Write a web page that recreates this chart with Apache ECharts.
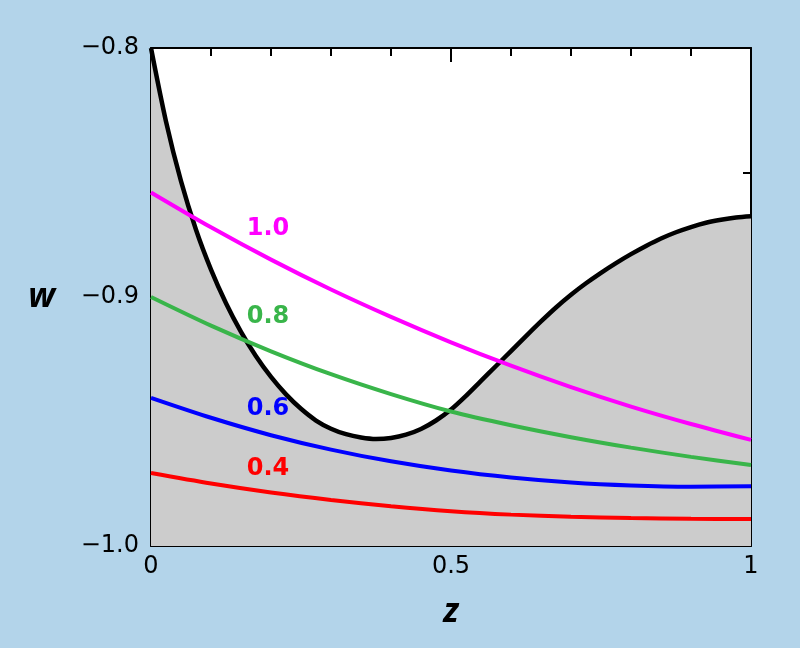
<!DOCTYPE html>
<html><head><meta charset="utf-8">
<script src="https://cdn.jsdelivr.net/npm/echarts@6/dist/echarts.min.js"></script>
<style>html,body{margin:0;padding:0;background:#b3d4ea}#c{width:800px;height:648px}</style>
</head><body><div id="c"></div>
<script>
// ---- data ----
const zBlack = [0, 0.025, 0.05, 0.075, 0.1, 0.125, 0.15, 0.175, 0.2, 0.225, 0.25, 0.275, 0.3, 0.325, 0.35, 0.375, 0.4, 0.425, 0.45, 0.475, 0.5,
  0.525, 0.55, 0.575, 0.6, 0.625, 0.65, 0.675, 0.7, 0.725, 0.75, 0.775, 0.8, 0.825, 0.85, 0.875, 0.9, 0.925, 0.95, 0.975, 1.0];
const wBlack = [-0.8000, -0.8295, -0.8535, -0.8730, -0.8890, -0.9025, -0.9140, -0.9238, -0.9321, -0.9391, -0.9449, -0.9496, -0.9529, -0.9551, -0.9564, -0.9570, -0.9566, -0.9553, -0.9530, -0.9496, -0.9452,
  -0.9397, -0.9337, -0.9277, -0.9217, -0.9157, -0.9098, -0.9042, -0.8991, -0.8945, -0.8903, -0.8864, -0.8828, -0.8795, -0.8765, -0.8740, -0.8719, -0.8702, -0.8690, -0.8681, -0.8676];
const zGrid = [0, 0.1, 0.2, 0.3, 0.4, 0.5, 0.6, 0.7, 0.8, 0.9, 1.0];
const w10 = [-0.858, -0.872, -0.885, -0.897, -0.908, -0.9182, -0.9276, -0.9362, -0.944, -0.951, -0.9574];
const w08 = [-0.900, -0.9115, -0.9218, -0.9310, -0.9390, -0.9460, -0.9515, -0.9563, -0.9605, -0.9642, -0.9675];
const w06 = [-0.9405, -0.9485, -0.9555, -0.9613, -0.966, -0.9697, -0.9725, -0.9745, -0.9757, -0.9762, -0.976];
const w04 = [-0.9707, -0.9749, -0.9785, -0.9815, -0.984, -0.986, -0.9874, -0.9883, -0.9888, -0.9891, -0.9892];
const seriesNames = ['1.0', '0.8', '0.6', '0.4'];
const labelZ = [0.195, 0.195, 0.195, 0.195];
const labelW = [-0.8725, -0.908, -0.9447, -0.969];
const xTicks = [0, 0.5, 1];
const yTicks = [-1.0, -0.9, -0.8];

const colors = ['#ff00ff', '#39b54a', '#0000ff', '#ff0000'];
const values = [w10, w08, w06, w04];
const FONT = 'DejaVu Sans';

const chart = echarts.init(document.getElementById('c'), null, {renderer: 'canvas'});
const tickCommon = {show: true, inside: true, length: 14, lineStyle: {color: '#000', width: 2}};
const minorCommon = {show: true, length: 8, lineStyle: {color: '#000', width: 2}};
const lineCommon = {show: true, onZero: false, lineStyle: {color: '#000', width: 2}};
const fmtY = v => (v < 0 ? '\u2212' : '') + Math.abs(v).toFixed(1);
const fmtX = v => String(+v.toFixed(2));

const series = [{
  type: 'line', data: zBlack.map((z, i) => [z, wBlack[i]]),
  smooth: 0.3, symbol: 'none', z: 3,
  lineStyle: {color: '#000', width: 4.5},
  areaStyle: {color: '#cccccc', opacity: 1, origin: 'start'}
}];
values.forEach((arr, k) => {
  series.push({
    type: 'line', name: seriesNames[k], data: zGrid.map((z, i) => [z, arr[i]]),
    smooth: 0.3, symbol: 'none', z: 4,
    lineStyle: {color: colors[k], width: 4},
    markPoint: {
      symbol: 'circle', symbolSize: 0,
      data: [{coord: [labelZ[k], labelW[k]], value: seriesNames[k]}],
      label: {show: true, position: 'inside', formatter: seriesNames[k], color: colors[k],
        fontFamily: FONT, fontWeight: 'bold', fontSize: 24}
    }
  });
});

chart.setOption({
  backgroundColor: '#b3d4ea',
  animation: false,
  grid: {left: 151, right: 49, top: 48, bottom: 102, show: true, backgroundColor: '#ffffff', borderWidth: 0},
  xAxis: [{
    type: 'value', min: 0, max: 1, interval: 0.5, position: 'bottom',
    axisLine: lineCommon, axisTick: tickCommon, minorTick: Object.assign({splitNumber: 5}, minorCommon),
    splitLine: {show: false},
    axisLabel: {formatter: v => xTicks.includes(v) ? fmtX(v) : '', color: '#000', fontFamily: FONT, fontSize: 24, margin: 9},
    name: 'z', nameLocation: 'middle', nameGap: 49,
    nameTextStyle: {fontFamily: 'Open Sans', fontWeight: 'bold', fontStyle: 'italic', fontSize: 34, color: '#000'}
  }, {
    type: 'value', min: 0, max: 1, interval: 0.5, position: 'top',
    axisLine: lineCommon, axisTick: tickCommon, minorTick: Object.assign({splitNumber: 5}, minorCommon),
    splitLine: {show: false}, axisLabel: {show: false}
  }],
  yAxis: [{
    type: 'value', min: -1.0, max: -0.8, interval: 0.1, position: 'left',
    axisLine: lineCommon, axisTick: tickCommon, minorTick: Object.assign({splitNumber: 2}, minorCommon),
    splitLine: {show: false},
    axisLabel: {formatter: v => yTicks.some(t => Math.abs(t - v) < 1e-9) ? fmtY(v) : '', color: '#000', fontFamily: FONT, fontSize: 24, margin: 12},
    name: 'w', nameLocation: 'middle', nameGap: 96, nameRotate: 0,
    nameTextStyle: {fontFamily: 'Open Sans', fontWeight: 'bold', fontStyle: 'italic', fontSize: 34, color: '#000'}
  }, {
    type: 'value', min: -1.0, max: -0.8, interval: 0.1, position: 'right',
    axisLine: lineCommon, axisTick: tickCommon, minorTick: Object.assign({splitNumber: 2}, minorCommon),
    splitLine: {show: false}, axisLabel: {show: false}
  }],
  series: series
});
</script></body></html>
